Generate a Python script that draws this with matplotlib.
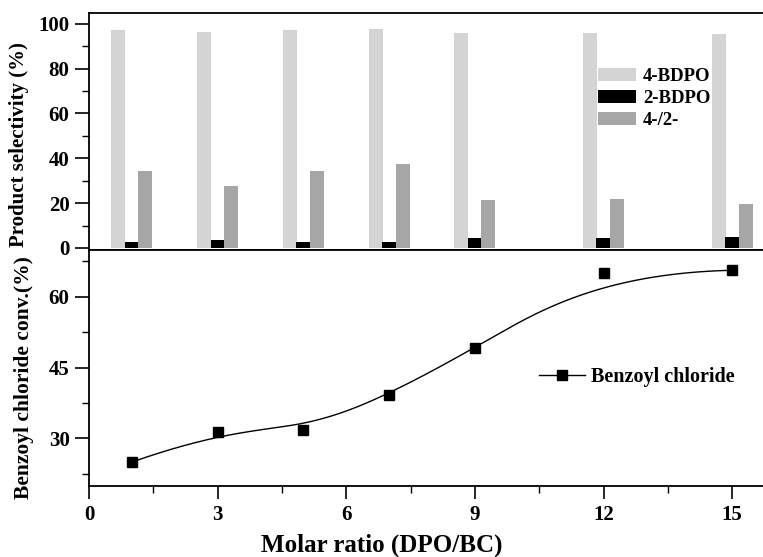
import numpy as np
import matplotlib
matplotlib.use("Agg")
import matplotlib.pyplot as plt
from matplotlib.ticker import MultipleLocator
from matplotlib.patches import Patch
from matplotlib.lines import Line2D

# ---- data ----
ratios = [1, 3, 5, 7, 9, 12, 15]
sel_4bdpo = [97.3, 96.5, 97.3, 97.7, 95.9, 95.9, 95.3]
sel_2bdpo = [2.8, 3.5, 2.8, 2.6, 4.5, 4.4, 4.9]
ratio_42 = [34.5, 27.5, 34.2, 37.6, 21.5, 22.0, 19.6]
bc_conv = [25.0, 31.4, 31.8, 39.3, 49.1, 65.0, 65.6]

series_labels = ["4-BDPO", "2-BDPO", "4-/2-"]
series_colors = ["#d4d4d4", "#000000", "#a6a6a6"]
line_label = "Benzoyl chloride"
xlabel = "Molar ratio (DPO/BC)"
ylabel_top = "Product selectivity (%)"
ylabel_bot = "Benzoyl chloride conv.(%)"

plt.rcParams['font.family'] = ['Liberation Serif', 'DejaVu Serif']
plt.rcParams['font.weight'] = 'bold'

W, H = 763, 557
fig = plt.figure(figsize=(W / 100, H / 100), dpi=100)

def fx(px):
    return px / W

def fy(py):
    return 1 - py / H

left, right = 89, 775
top_top, mid, bot_bot = 12.5, 249.5, 485.7

ax1 = fig.add_axes([fx(left), fy(mid), fx(right) - fx(left), fy(top_top) - fy(mid)])
ax2 = fig.add_axes([fx(left), fy(bot_bot), fx(right) - fx(left), fy(mid) - fy(bot_bot)])

for ax in (ax1, ax2):
    for s in ax.spines.values():
        s.set_linewidth(1.3)
    ax.set_xlim(0, 16)

TICK_FS = 15

# ---- top bars ----
x = np.array(ratios, dtype=float)
bw = 0.33
for i, (vals, c, lab) in enumerate(zip([sel_4bdpo, sel_2bdpo, ratio_42], series_colors, series_labels)):
    ax1.bar(x + (i - 1) * 0.315, vals, width=bw, color=c, label=lab, zorder=2)
ax1.set_ylim(-0.7, 105)
ax1.yaxis.set_major_locator(MultipleLocator(20))
ax1.yaxis.set_minor_locator(MultipleLocator(10))
ax1.tick_params(axis='x', which='both', bottom=False, top=False, labelbottom=False)
ax1.tick_params(axis='y', which='major', length=10, width=1.2, direction='out', labelsize=TICK_FS, pad=4)
ax1.tick_params(axis='y', which='minor', length=5, width=1.0, direction='out')
handles = [Patch(facecolor=c, edgecolor='none') for c in series_colors]
leg1 = ax1.legend(handles, series_labels, loc='upper left', frameon=False,
                  prop={'size': 13.5, 'weight': 'bold'}, handlelength=2.0, handleheight=0.7,
                  handletextpad=0.4, labelspacing=0.25, borderpad=0, borderaxespad=0)
leg1.set_bbox_to_anchor((fx(598), fy(68)), transform=fig.transFigure)

# ---- bottom line (B-spline connection using the data as control points) ----
def bspline(cx, cy, k=3, n=500):
    cx = np.asarray(cx, float)
    cy = np.asarray(cy, float)
    m = len(cx)
    knots = np.concatenate([np.zeros(k), np.linspace(0, 1, m - k + 1), np.ones(k)])
    t = np.linspace(0, 1, n)
    t[-1] -= 1e-10
    B = np.zeros((n, len(knots) - 1))
    for j in range(len(knots) - 1):
        B[:, j] = (t >= knots[j]) & (t < knots[j + 1])
    for d in range(1, k + 1):
        Bn = np.zeros((n, len(knots) - 1 - d))
        for j in range(len(knots) - 1 - d):
            den1 = knots[j + d] - knots[j]
            den2 = knots[j + d + 1] - knots[j + 1]
            term = np.zeros(n)
            if den1 > 0:
                term += (t - knots[j]) / den1 * B[:, j]
            if den2 > 0:
                term += (knots[j + d + 1] - t) / den2 * B[:, j + 1]
            Bn[:, j] = term
        B = Bn
    return B @ cx, B @ cy

sx, sy = bspline(ratios, bc_conv)
ax2.plot(sx, sy, color='black', lw=1.0, zorder=2)
ax2.plot(ratios, bc_conv, linestyle='none', marker='s', color='black', markersize=6.5, zorder=3)
ax2.set_ylim(20, 70)
ax2.yaxis.set_major_locator(MultipleLocator(15))
ax2.yaxis.set_minor_locator(MultipleLocator(7.5))
ax2.xaxis.set_major_locator(MultipleLocator(3))
ax2.xaxis.set_minor_locator(MultipleLocator(1.5))
ax2.tick_params(axis='both', which='major', length=9, width=1.2, direction='out', labelsize=TICK_FS)
ax2.tick_params(axis='both', which='minor', length=5, width=1.0, direction='out')
ax2.tick_params(axis='y', which='major', length=10, pad=4)
ax2.tick_params(axis='x', which='major', pad=5)
ax2.set_xticks([0, 3, 6, 9, 12, 15])
h2 = Line2D([], [], color='black', lw=1.0, marker='s', markersize=6.5)
leg2 = ax2.legend([h2], [line_label], loc='center left', frameon=False,
                  prop={'size': 14.5, 'weight': 'bold'}, handlelength=2.3,
                  handletextpad=0.3, borderpad=0, borderaxespad=0)
leg2.set_bbox_to_anchor((fx(539), fy(377)), transform=fig.transFigure)

for ax in (ax1, ax2):
    for lbl in ax.get_xticklabels() + ax.get_yticklabels():
        lbl.set_fontweight('bold')

fig.text(fx(19), fy(145), ylabel_top, rotation=90, ha='center', va='center', fontsize=15, fontweight='bold')
fig.text(fx(24), fy(378), ylabel_bot, rotation=90, ha='center', va='center', fontsize=15.5, fontweight='bold')
fig.text(fx(382), fy(552), xlabel, ha='center', va='baseline', fontsize=18, fontweight='bold')

fig.savefig("out.png", dpi=100)
